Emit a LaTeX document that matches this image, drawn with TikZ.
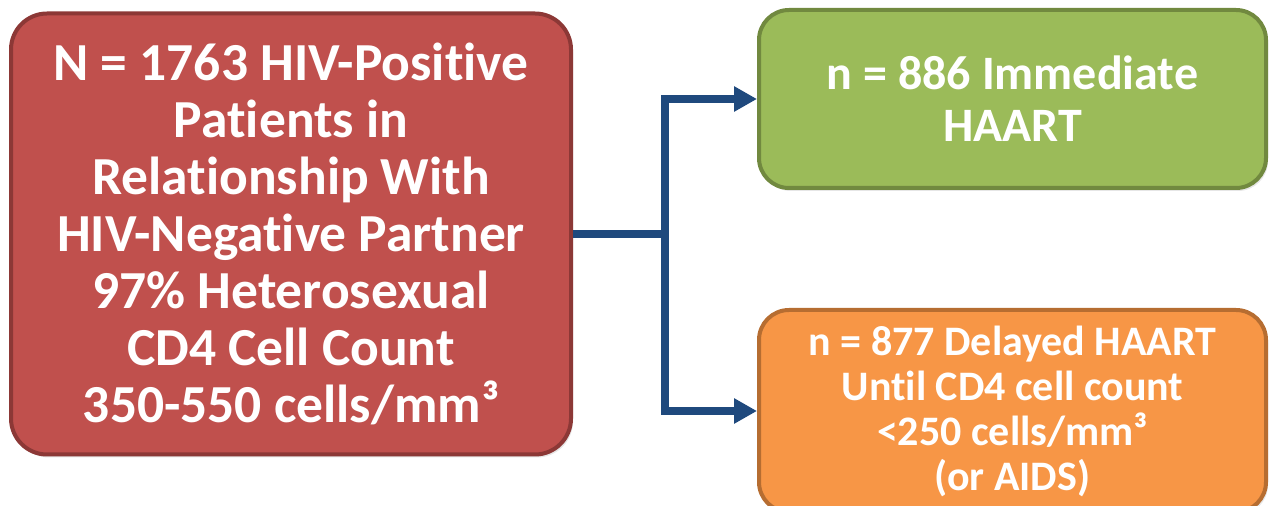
\documentclass[tikz,border=0pt]{standalone}
\usepackage{fontspec}
\setmainfont{Carlito}[RawFeature={-liga,-clig,-calt}]
\usetikzlibrary{positioning,arrows.meta,shadows}

\definecolor{redfill}{HTML}{C0504D}
\definecolor{redline}{HTML}{8C3836}
\definecolor{greenfill}{HTML}{9BBB59}
\definecolor{greenline}{HTML}{71893F}
\definecolor{orangefill}{HTML}{F79646}
\definecolor{orangeline}{HTML}{B66D31}
\definecolor{linkblue}{HTML}{1F497D}

\begin{document}
\begin{tikzpicture}[x=1pt,y=1pt,
    box/.style={rectangle, rounded corners=30pt, line width=4pt, text=white, align=center,
                drop shadow={shadow xshift=2pt, shadow yshift=-3pt, opacity=0.2}},
    link/.style={draw=linkblue, line width=8pt, -{Triangle[length=23pt,width=24pt]}}]
    \useasboundingbox (0,0) rectangle (1270,506);

    \node[box, rounded corners=36pt, fill=redfill, draw=redline, minimum width=560pt, minimum height=441pt,
          font=\fontsize{53.5}{57}\selectfont\bfseries] (patients) at (291,272)
          {N = 1763 HIV-Positive\\Patients in\\Relationship With\\HIV-Negative Partner\\97\% Heterosexual\\CD4 Cell Count\\350-550 cells/mm³};
    \node[box, fill=greenfill, draw=greenline, minimum width=507pt, minimum height=178pt,
          font=\fontsize{48}{52}\selectfont\bfseries] (immediate) at (1012.5,407)
          {n = 886 Immediate\\HAART};
    \node[box, fill=orangefill, draw=orangeline, minimum width=507pt, minimum height=202pt,
          font=\fontsize{42}{45}\selectfont\bfseries] (delayed) [below=118pt of immediate]
          {n = 877 Delayed HAART\\Until CD4 cell count\\<250 cells/mm³\\(or AIDS)};

    \draw[link] (patients.east) -- ++(92,0) |- (immediate.west);
    \draw[link] (patients.east) -- ++(92,0) |- (delayed.west);
\end{tikzpicture}
\end{document}
